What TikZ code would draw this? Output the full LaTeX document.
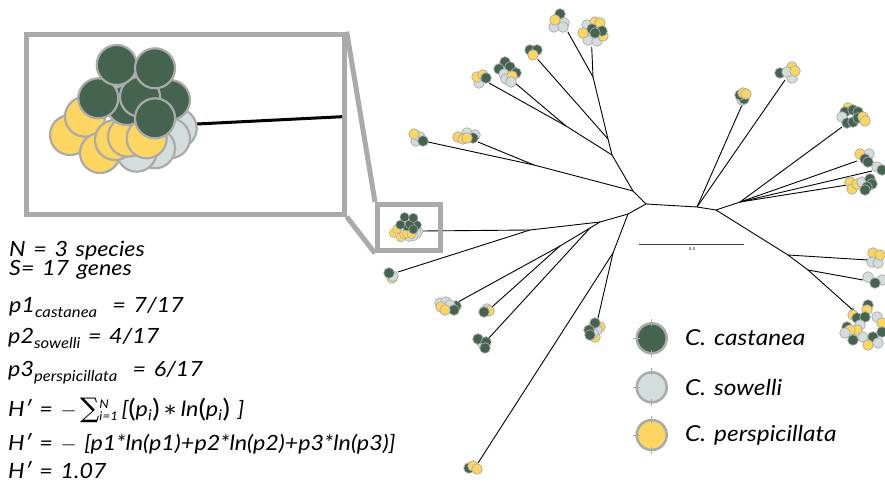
\documentclass[tikz,border=0pt]{standalone}
\usepackage{fontspec}
\setmainfont{Lato}[FakeStretch=1.11, WordSpace=1.4]
\newfontfamily\symf{DejaVu Serif}
\usetikzlibrary{arrows.meta}
\definecolor{cK}{RGB}{69,100,80}
\definecolor{cW}{RGB}{211,221,219}
\definecolor{cY}{RGB}{253,213,97}
\definecolor{cS}{RGB}{170,170,170}
\newcommand\spsub[1]{\raisebox{-5pt}{\fontsize{15}{15}\selectfont #1}}
\newcommand\bigpar[1]{{\fontsize{25}{25}\selectfont\upshape\raisebox{-1pt}{#1}}}
\newcommand\clus[1]{\foreach \cx/\cy/\cc in {#1} {\path[dot, fill=\cc] (\cx,\cy) circle (5.3pt);}}
\begin{document}
\begin{tikzpicture}[x=1pt,y=-1pt,
  branch/.style={line width=0.9pt, black},
  dot/.style={draw=cS, line width=0.7pt},
  bigdot/.style={draw=cS, line width=2.2pt},
  frame/.style={draw=cS, line width=5pt, inner sep=0pt, rectangle},
  txt/.style={anchor=base west, inner sep=0pt, font=\fontsize{21}{25}\selectfont\itshape},
  legtxt/.style={anchor=base west, inner sep=0pt, font=\fontsize{22}{27}\selectfont\itshape},
  legdot/.style={circle, draw=cS, line width=2.5pt, minimum size=30pt, inner sep=0pt}]
\useasboundingbox (0,0) rectangle (885,492);
% ---------- tree: internal nodes ----------
\coordinate (A) at (646,204);
\coordinate (B) at (697,207);
\coordinate (C) at (716,210);
\coordinate (E) at (633,191);
\coordinate (F) at (612,155);
\coordinate (H) at (608,139);
\coordinate (G) at (593,77);
\coordinate (I) at (566,126);
\coordinate (J) at (534,165);
\coordinate (K) at (628,214);
\coordinate (L) at (600,222);
\coordinate (M) at (530,230);
\coordinate (Q) at (590,228);
\coordinate (P) at (560,246);
\coordinate (N) at (613,253);
\coordinate (S) at (740,202);
\coordinate (T) at (788,255);
\coordinate (U) at (808,270);
% ---------- tips ----------
\coordinate (t1) at (567.7,31.7);
\coordinate (t2) at (591.7,46.7);
\coordinate (t3) at (537.7,59.3);
\coordinate (t4) at (489,83);
\coordinate (t5) at (515,83);
\coordinate (t6) at (428,142);
\coordinate (t7) at (478,142);
\coordinate (t8) at (422,231);
\coordinate (t9) at (398,272);
\coordinate (t10) at (458,302);
\coordinate (t11) at (492,307);
\coordinate (t12) at (488,339);
\coordinate (t13) at (478,463);
\coordinate (t14) at (598,318);
\coordinate (t15) at (742,105);
\coordinate (t16) at (785,80);
\coordinate (t17) at (842,127);
\coordinate (t18) at (857,161);
\coordinate (t19) at (872,171);
\coordinate (t20) at (847,185);
\coordinate (t21) at (868,260);
\coordinate (t22) at (863,280);
\coordinate (t23) at (855,312);
% ---------- branches ----------
\draw[branch] (E) -- (A) -- (B) -- (C);
\draw[branch] (E) -- (F) -- (H) -- (G) -- (t1);
\draw[branch] (G) -- (t2);
\draw[branch] (H) -- (t3);
\draw[branch] (F) -- (I) -- (t4);
\draw[branch] (I) -- (t5);
\draw[branch] (E) -- (J) -- (t6);
\draw[branch] (J) -- (t7);
\draw[branch] (A) -- (K) -- (L) -- (M) -- (t8);
\draw[branch] (M) -- (t9);
\draw[branch] (L) -- (Q) -- (P) -- (t10);
\draw[branch] (P) -- (t11);
\draw[branch] (Q) -- (t12);
\draw[branch] (K) -- (N) -- (t13);
\draw[branch] (N) -- (t14);
\draw[branch] (B) -- (t15);
\draw[branch] (B) -- (t16);
\draw[branch] (C) -- (S) -- (t17);
\draw[branch] (S) -- (t18);
\draw[branch] (S) -- (t19);
\draw[branch] (S) -- (t20);
\draw[branch] (C) -- (T) -- (t21);
\draw[branch] (T) -- (U) -- (t22);
\draw[branch, -{Stealth[length=5pt,width=4pt]}] (U) -- (t23);
% ---------- tip clusters ----------
\clus{560/14/cK, 564/23/cW, 554/27/cW, 563/27/cW, 555/20/cY}
\clus{587/25/cW, 595/22/cY, 600/23/cY, 587/35/cW, 588/40/cW, 597/41/cW, 583/33/cY, 603/36/cY, 592/29/cK, 602/31/cK, 595/33/cK}
\clus{530/50/cK, 537/50/cK, 533/55/cY}
\clus{479/83/cW, 477/77/cY, 483/75/cY, 486/78/cK}
\clus{505/62/cK, 499/69/cK, 510/67/cK, 516/73/cK, 504/74/cW, 506/79/cW, 512/76/cY, 511/82/cW}
\clus{416/141/cW, 420/137/cW, 414/134/cY, 423/141/cK}
\clus{467/133/cW, 475/135/cW, 473/138/cK, 458/137/cY, 463/139/cY, 467/138/cY}
\clus{392/278/cY, 393/276/cW, 389/273/cK}
\clus{456/306/cK, 440/303/cW, 446/302/cW, 450/305/cW, 454/310/cK, 441/307/cY, 445/310/cY}
\clus{487/309/cW, 489/311/cY, 484/312/cK}
\clus{482/343/cW, 478/339/cK, 486/342/cK, 485/348/cK}
\clus{469/468/cK, 473/466/cY, 477/469/cY}
\clus{600/327/cY, 597/330/cW, 595/337/cY, 593/333/cW, 595/323/cK, 589/330/cK, 590/335/cK}
\clus{742/100/cW, 744/99/cK, 740/95/cK, 743/93/cY, 746/94/cY}
\clus{780/73/cK, 792/67/cY, 792/78/cW, 787/72/cW, 795/71/cY}
\clus{848/108/cY, 845/112/cK, 853/110/cK, 858/112/cK, 842/117/cW, 847/123/cK, 853/122/cK, 858/118/cK, 863/117/cY, 865/121/cY}
\clus{860/154/cY, 869/154/cW, 865/159/cK, 868/162/cK}
\clus{877/167/cW, 882/170/cK}
\clus{850/182/cY, 852/189/cY, 857/184/cY, 862/182/cW, 870/179/cK, 872/184/cK, 867/187/cK, 865/190/cK}
\clus{873/253/cY, 872/262/cW, 878/263/cW, 880/255/cY}
\clus{868/277/cW, 882/280/cW, 875/283/cK}
\clus{868/305/cK, 867/310/cY, 853/315/cY, 857/318/cK, 877/317/cW, 865/317/cK, 860/325/cW, 882/323/cY, 847/327/cK, 857/330/cY, 850/330/cY, 845/333/cW, 863/337/cW, 873/337/cK, 882/332/cK, 853/340/cK, 868/345/cY, 878/343/cW}
% small-box cluster (t8), a reduced copy of the inset
\foreach \cx/\cy/\cc in {176.7/128.3/cW, 170/138.3/cW, 155/148.3/cW, 136.7/151.7/cW,
  70/135/cY, 85/116.7/cY, 100/153/cY, 115/140/cY, 128/136.7/cY, 146.7/138.3/cY,
  126.7/105/cK, 170/100/cK, 140/96.7/cK, 98.3/98.3/cK, 116.7/65/cK, 155/68.3/cK, 155/118.3/cK}
  {\path[dot, line width=0.5pt, fill=\cc] ({406+0.23*(\cx-123)},{227+0.23*(\cy-108)}) circle (4.6pt);}
% ---------- inset ----------
\node[frame, minimum width=317.7pt, minimum height=180pt] (zoombox) at (185.35,124.2) {};
\node[frame, minimum width=63pt, minimum height=46.3pt] (smallbox) at (409,227.65) {};
\draw[cS, line width=5pt] (zoombox.north east) -- (smallbox.north west);
\draw[cS, line width=5pt] (zoombox.south east) -- (smallbox.south west);
\coordinate (ia) at (196.7,124);
\coordinate (ib) at (342,116.7);
\draw[line width=3pt] (ia) -- (ib);
\foreach \cx/\cy/\cc in {176.7/128.3/cW, 170/138.3/cW, 155/148.3/cW, 136.7/151.7/cW,
  70/135/cY, 85/116.7/cY, 100/153/cY, 115/140/cY, 128/136.7/cY, 146.7/138.3/cY,
  126.7/105/cK, 170/100/cK, 140/96.7/cK, 98.3/98.3/cK, 116.7/65/cK, 155/68.3/cK, 155/118.3/cK}
  {\path[bigdot, fill=\cc] (\cx,\cy) circle (20pt);}
% ---------- scale bar ----------
\coordinate (sb1) at (639,244);
\coordinate (sb2) at (744,244);
\draw[line width=0.9pt, black!75] (sb1) -- (sb2);
\node[font=\fontsize{4}{4}\selectfont, inner sep=0pt] (sbl) at (692,249) {0.5};
% ---------- legend ----------
\node[legdot, fill=cK] (lg1) at (651.7,338.3) {};
\node[legdot, fill=cW] (lg2) at (651.7,387.3) {};
\node[legdot, fill=cY] (lg3) at (651.7,435) {};
\foreach \n in {lg1,lg2,lg3}
  \foreach \a in {90,180,270}
    \draw[cS, line width=0.6pt] ([shift={(\a:12pt)}]\n.center) -- ([shift={(\a:19pt)}]\n.center);
\node[legtxt] (lt1) at (685,345.5) {C. castanea};
\node[legtxt] (lt2) at (685,395) {C. sowelli};
\node[legtxt] (lt3) at (685,441.5) {C. perspicillata};
% ---------- formulas ----------
\node[txt] (l1) at (9,256.5) {N = 3 species};
\node[txt] (l2) at (9,275.5) {S= 17 genes};
\node[txt] (l3) at (9,312.5) {p1\spsub{castanea} \ = 7/17};
\node[txt] (l4) at (8,343) {p2\spsub{sowelli} = 4/17};
\node[txt] (l5) at (8,376.5) {p3\spsub{perspicillata} \ = 6/17};
\node[txt] (l6) at (8,416.5) {H′ = $-$\,{\symf\upshape\fontsize{27}{27}\selectfont\raisebox{-1pt}{∑}}\raisebox{-4pt}{\fontsize{12}{11}\selectfont\shortstack[l]{N\\i=1}}\,[\bigpar{(}p\textsubscript{i}\bigpar{)}\,{\symf\upshape ∗}\,ln\bigpar{(}p\textsubscript{i}\bigpar{)} ]};
\node[txt] (l7) at (8,450) {H′ = $-$ [p1*ln(p1)+p2*ln(p2)+p3*ln(p3)]};
\node[txt] (l8) at (8,478.5) {H′ = 1.07};
\end{tikzpicture}
\end{document}
